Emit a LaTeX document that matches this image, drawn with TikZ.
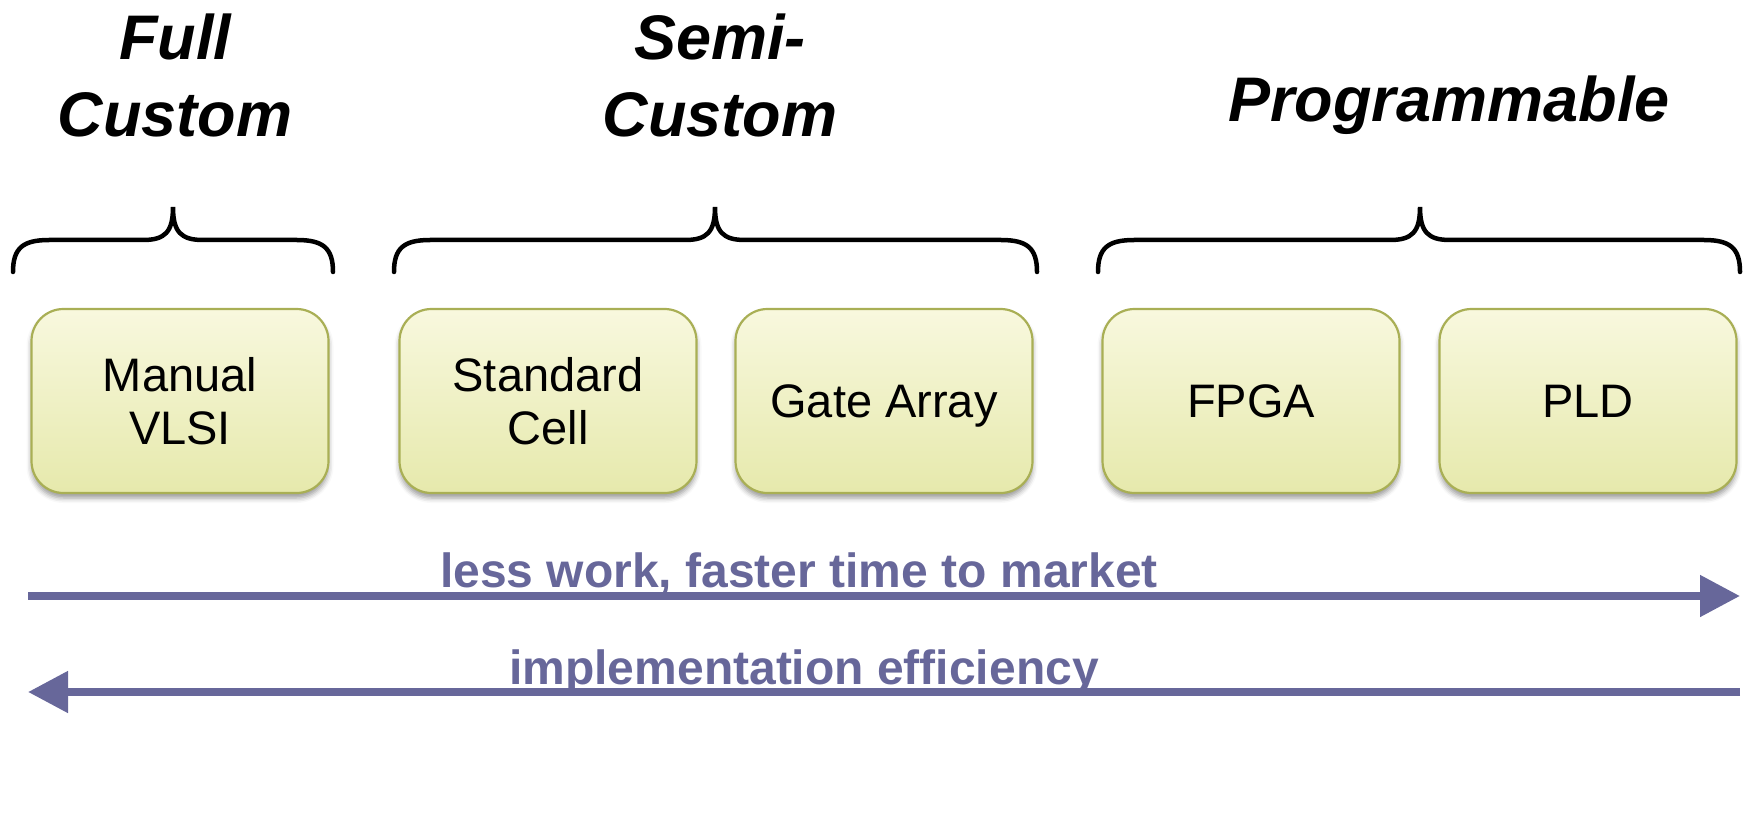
\documentclass[tikz,border=0pt]{standalone}
\usepackage{fontspec}
\setmainfont{Liberation Sans}
\usetikzlibrary{arrows.meta,shadows.blur}

\definecolor{boxtop}{HTML}{F8F8DE}
\definecolor{boxbot}{HTML}{E6E9AC}
\definecolor{boxline}{HTML}{A9AF55}
\definecolor{arrowcol}{HTML}{67679A}

\tikzset{
  blk/.style={draw=boxline, line width=2.2pt, rounded corners=32pt,
    top color=boxtop, bottom color=boxbot,
    minimum width=297pt, minimum height=184pt, inner sep=0pt,
    text depth=0pt,
    align=center, font=\fontsize{47}{53}\selectfont,
    blur shadow={shadow xshift=0pt, shadow yshift=-5pt,
      shadow blur radius=5pt, shadow opacity=40}},
  heading/.style={align=center, inner sep=0pt,
    font=\fontsize{63}{77}\selectfont\bfseries\itshape},
  flowlabel/.style={inner sep=0pt, text=arrowcol,
    font=\fontsize{48}{58}\selectfont\bfseries},
  flow/.style={draw=arrowcol, line width=8pt,
    -{Triangle[length=40pt,width=40pt]}},
  bracket/.style={draw=black, line width=4.5pt, line cap=round}
}

\begin{document}
\begin{tikzpicture}[x=1pt,y=-1pt]
\useasboundingbox (0,0) rectangle (1752,826);

% category headings (anchored at the baseline of their last line)
\node[heading, anchor=base] (hfull) at (175,137) {Full\\Custom};
\node[heading, anchor=base] (hsemi) at (720,137) {Semi-\\Custom};
\node[heading, anchor=base] (hprog) at (1449,122) {Programmable};

% curly brackets grouping the design styles
\foreach \l/\t/\r in {13/173/333, 394/715/1037, 1098/1420/1740}{
  \draw[bracket]
    (\l,272) .. controls (\l,248) and (\l+10,240) .. (\l+36,240)
    -- (\t-30,240) .. controls (\t-8,240) and (\t,232) .. (\t,207)
    .. controls (\t,232) and (\t+8,240) .. (\t+30,240)
    -- (\r-36,240) .. controls (\r-10,240) and (\r,248) .. (\r,272);
}

% design styles
\node[blk] (mv)   at (180,401)  {Manual\\VLSI};
\node[blk] (sc)   at (548,401)  {Standard\\Cell};
\node[blk] (ga)   at (884,401)  {Gate Array};
\node[blk] (fpga) at (1251,401) {FPGA};
\node[blk] (pld)  at (1588,401) {PLD};

% trade-off arrows
\coordinate (a1s) at (28,596);
\coordinate (a1e) at (1740,596);
\coordinate (a2s) at (1740,692);
\coordinate (a2e) at (28,692);
\draw[flow] (a1s) -- (a1e);
\draw[flow] (a2s) -- (a2e);
\node[flowlabel, anchor=base] (l1) at (799,587) {less work, faster time to market};
\node[flowlabel, anchor=base] (l2) at (804,684) {implementation efficiency};
\end{tikzpicture}
\end{document}
